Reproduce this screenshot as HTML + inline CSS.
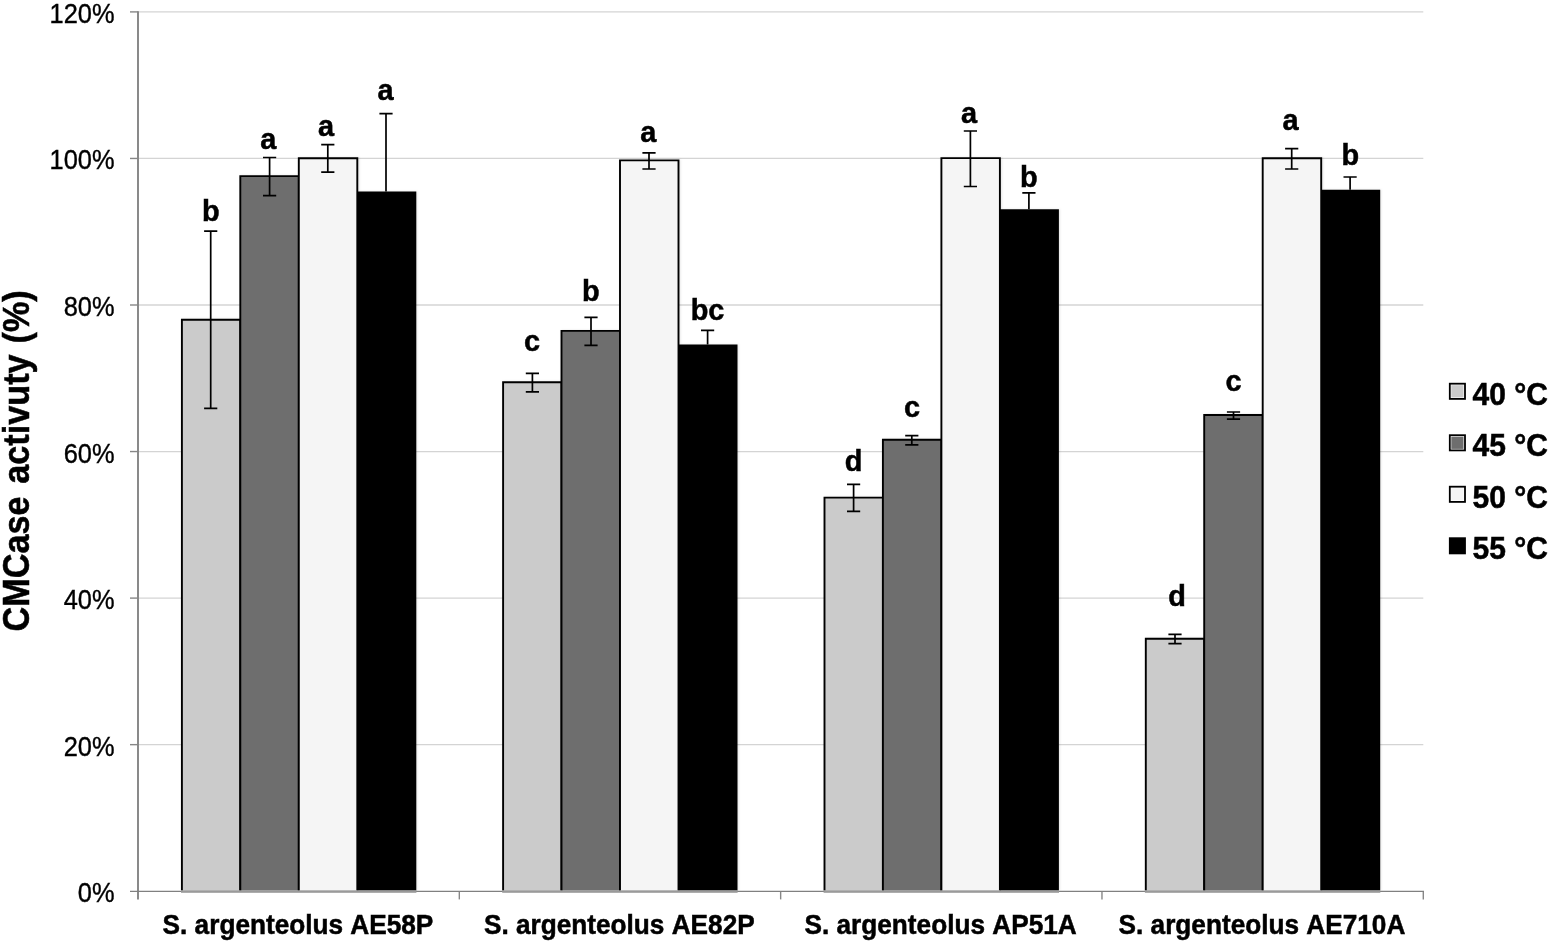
<!DOCTYPE html>
<html lang="en">
<head>
<meta charset="utf-8">
<title>CMCase activity chart</title>
<style>
html,body{margin:0;padding:0;background:#fff;}
body{width:1551px;height:943px;overflow:hidden;}
svg{display:block;}
text{font-family:"Liberation Sans",Arial,Helvetica,sans-serif;fill:#000;font-kerning:none;}
.tick{font-size:25.4px;text-anchor:end;stroke:#000;stroke-width:0.35px;}
.cat{font-size:26.2px;font-weight:bold;text-anchor:middle;stroke:#000;stroke-width:0.5px;}
.lab{font-size:28.9px;font-weight:bold;text-anchor:middle;stroke:#000;stroke-width:0.5px;}
.leg{font-size:30px;font-weight:bold;stroke:#000;stroke-width:0.5px;}
.ttl{font-size:34.2px;font-weight:bold;stroke:#000;stroke-width:0.5px;}
.grid{stroke:#d4d4d4;stroke-width:1.3;}
.axis{stroke:#878787;stroke-width:1.75;fill:none;}
.tk{stroke:#878787;stroke-width:1.4;fill:none;}
.bar{stroke:#000;stroke-width:1.9;}
.err{stroke:#000;stroke-width:1.7;fill:none;}
</style>
</head>
<body>
<svg width="1551" height="943" viewBox="0 0 1551 943">
<rect x="0" y="0" width="1551" height="943" fill="#ffffff"/>

<g class="grid">
<line x1="138.0" y1="11.90" x2="1423.3" y2="11.90"/>
<line x1="138.0" y1="158.45" x2="1423.3" y2="158.45"/>
<line x1="138.0" y1="305.00" x2="1423.3" y2="305.00"/>
<line x1="138.0" y1="451.55" x2="1423.3" y2="451.55"/>
<line x1="138.0" y1="598.10" x2="1423.3" y2="598.10"/>
<line x1="138.0" y1="744.65" x2="1423.3" y2="744.65"/>
</g>
<g style="filter:drop-shadow(1px 0.5px 1.2px rgba(0,0,0,0.10))">
<path class="bar" d="M181.90 890.6V319.70H240.30V890.6" fill="#cbcbcb"/>
<path class="bar" d="M240.30 890.6V176.10H298.80V890.6" fill="#6e6e6e"/>
<path class="bar" d="M298.80 890.6V158.30H357.30V890.6" fill="#f5f5f5"/>
<path d="M357.30 890.6V191.40H416.30V890.6" fill="#000000"/>
<path class="bar" d="M503.10 890.6V382.20H561.50V890.6" fill="#cbcbcb"/>
<path class="bar" d="M561.50 890.6V330.90H620.00V890.6" fill="#6e6e6e"/>
<path class="bar" d="M620.00 890.6V160.40H678.50V890.6" fill="#f5f5f5"/>
<path d="M678.50 890.6V344.50H737.50V890.6" fill="#000000"/>
<path class="bar" d="M824.50 890.6V497.60H882.90V890.6" fill="#cbcbcb"/>
<path class="bar" d="M882.90 890.6V439.70H941.40V890.6" fill="#6e6e6e"/>
<path class="bar" d="M941.40 890.6V158.10H999.90V890.6" fill="#f5f5f5"/>
<path d="M999.90 890.6V209.30H1058.90V890.6" fill="#000000"/>
<path class="bar" d="M1145.80 890.6V638.80H1204.20V890.6" fill="#cbcbcb"/>
<path class="bar" d="M1204.20 890.6V415.00H1262.70V890.6" fill="#6e6e6e"/>
<path class="bar" d="M1262.70 890.6V158.20H1321.20V890.6" fill="#f5f5f5"/>
<path d="M1321.20 890.6V189.80H1380.20V890.6" fill="#000000"/>
</g>
<g class="err">
<path d="M204.10 231.10H217.30M210.70 231.10V408.40M204.10 408.40H217.30"/>
<path d="M263.00 157.50H276.20M269.60 157.50V195.70M263.00 195.70H276.20"/>
<path d="M321.20 144.70H334.40M327.80 144.70V172.20M321.20 172.20H334.40"/>
<path d="M379.40 113.70H392.60M386.00 113.70V191.40"/>
<path d="M525.80 373.30H539.00M532.40 373.30V391.90M525.80 391.90H539.00"/>
<path d="M584.40 317.30H597.60M591.00 317.30V345.30M584.40 345.30H597.60"/>
<path d="M642.40 152.80H655.60M649.00 152.80V169.00M642.40 169.00H655.60"/>
<path d="M701.00 330.30H714.20M707.60 330.30V344.50"/>
<path d="M847.00 484.30H860.20M853.60 484.30V511.40M847.00 511.40H860.20"/>
<path d="M905.20 435.60H918.40M911.80 435.60V444.90M905.20 444.90H918.40"/>
<path d="M963.80 131.00H977.00M970.40 131.00V186.50M963.80 186.50H977.00"/>
<path d="M1022.30 192.90H1035.50M1028.90 192.90V209.30"/>
<path d="M1168.40 634.40H1181.60M1175.00 634.40V643.70M1168.40 643.70H1181.60"/>
<path d="M1226.90 412.00H1240.10M1233.50 412.00V419.10M1226.90 419.10H1240.10"/>
<path d="M1285.10 148.60H1298.30M1291.70 148.60V169.00M1285.10 169.00H1298.30"/>
<path d="M1343.50 177.00H1356.70M1350.10 177.00V189.80"/>
</g>
<g class="tk">
<path d="M130.0 11.90H138.0"/>
<path d="M130.0 158.45H138.0"/>
<path d="M130.0 305.00H138.0"/>
<path d="M130.0 451.55H138.0"/>
<path d="M130.0 598.10H138.0"/>
<path d="M130.0 744.65H138.0"/>
<path d="M459.32 891.4V899.40"/>
<path d="M780.65 891.4V899.40"/>
<path d="M1101.97 891.4V899.40"/>
<path d="M1423.30 891.4V899.40"/>
</g>
<g class="axis">
<path stroke-width="1.95" d="M138.0 11.20V899.40"/>
<path stroke-width="1.4" stroke="#808080" d="M130.0 891.4H1424.00"/>
<rect x="181.00" y="890.5" width="235.40" height="2.3" fill="#9a9a9a" stroke="none"/>
<rect x="502.20" y="890.5" width="235.40" height="2.3" fill="#9a9a9a" stroke="none"/>
<rect x="823.60" y="890.5" width="235.40" height="2.3" fill="#9a9a9a" stroke="none"/>
<rect x="1144.90" y="890.5" width="235.40" height="2.3" fill="#9a9a9a" stroke="none"/>
</g>
<g class="tick">
<text transform="translate(114.5 22.90) scale(1 1.07)">120%</text>
<text transform="translate(114.5 169.45) scale(1 1.07)">100%</text>
<text transform="translate(114.5 316.00) scale(1 1.07)">80%</text>
<text transform="translate(114.5 462.55) scale(1 1.07)">60%</text>
<text transform="translate(114.5 609.10) scale(1 1.07)">40%</text>
<text transform="translate(114.5 755.65) scale(1 1.07)">20%</text>
<text transform="translate(114.5 902.20) scale(1 1.07)">0%</text>
</g>
<g class="lab">
<text transform="translate(210.75 221.00) scale(1 1.04)">b</text>
<text transform="translate(268.20 149.40) scale(1 1.04)">a</text>
<text transform="translate(326.15 135.80) scale(1 1.04)">a</text>
<text transform="translate(385.45 99.70) scale(1 1.04)">a</text>
<text transform="translate(532.15 350.50) scale(1 1.04)">c</text>
<text transform="translate(590.85 301.20) scale(1 1.04)">b</text>
<text transform="translate(648.20 142.40) scale(1 1.04)">a</text>
<text transform="translate(707.50 320.20) scale(1 1.04)">bc</text>
<text transform="translate(853.55 470.50) scale(1 1.04)">d</text>
<text transform="translate(912.00 417.00) scale(1 1.04)">c</text>
<text transform="translate(969.00 122.60) scale(1 1.04)">a</text>
<text transform="translate(1028.75 187.10) scale(1 1.04)">b</text>
<text transform="translate(1177.10 605.70) scale(1 1.04)">d</text>
<text transform="translate(1233.65 390.90) scale(1 1.04)">c</text>
<text transform="translate(1290.45 129.50) scale(1 1.04)">a</text>
<text transform="translate(1350.35 164.80) scale(1 1.04)">b</text>
</g>
<g class="cat">
<text transform="translate(297.96 933.9) scale(1 1.07)">S. argenteolus AE58P</text>
<text transform="translate(619.29 933.9) scale(1 1.07)">S. argenteolus AE82P</text>
<text transform="translate(940.61 933.9) scale(1 1.07)">S. argenteolus AP51A</text>
<text transform="translate(1261.94 933.9) scale(1 1.07)">S. argenteolus AE710A</text>
</g>
<g>
<rect x="1449.8" y="383.70" width="15.2" height="15.2" fill="#ffffff" stroke="#000" stroke-width="1.8"/>
<rect x="1451.3" y="385.20" width="12.2" height="12.2" fill="#cbcbcb"/>
<text class="leg" transform="translate(1472.5 404.80) scale(1 1.05)">40 °C</text>
<rect x="1449.8" y="435.20" width="15.2" height="15.2" fill="#ffffff" stroke="#000" stroke-width="1.8"/>
<rect x="1451.3" y="436.70" width="12.2" height="12.2" fill="#6e6e6e"/>
<text class="leg" transform="translate(1472.5 456.30) scale(1 1.05)">45 °C</text>
<rect x="1449.8" y="486.70" width="15.2" height="15.2" fill="#ffffff" stroke="#000" stroke-width="1.8"/>
<rect x="1451.3" y="488.20" width="12.2" height="12.2" fill="#f5f5f5"/>
<text class="leg" transform="translate(1472.5 507.80) scale(1 1.05)">50 °C</text>
<rect x="1449.8" y="538.20" width="15.2" height="15.2" fill="#000000" stroke="#000" stroke-width="1.8"/>
<rect x="1451.3" y="539.70" width="12.2" height="12.2" fill="#000000"/>
<text class="leg" transform="translate(1472.5 559.30) scale(1 1.05)">55 °C</text>
</g>
<text class="ttl" transform="translate(29.4 631.4) rotate(-90) scale(1 1.09)">CMCase<tspan dx="3.3"> activuty</tspan><tspan dx="1.5"> (%)</tspan></text>
</svg>
</body>
</html>
